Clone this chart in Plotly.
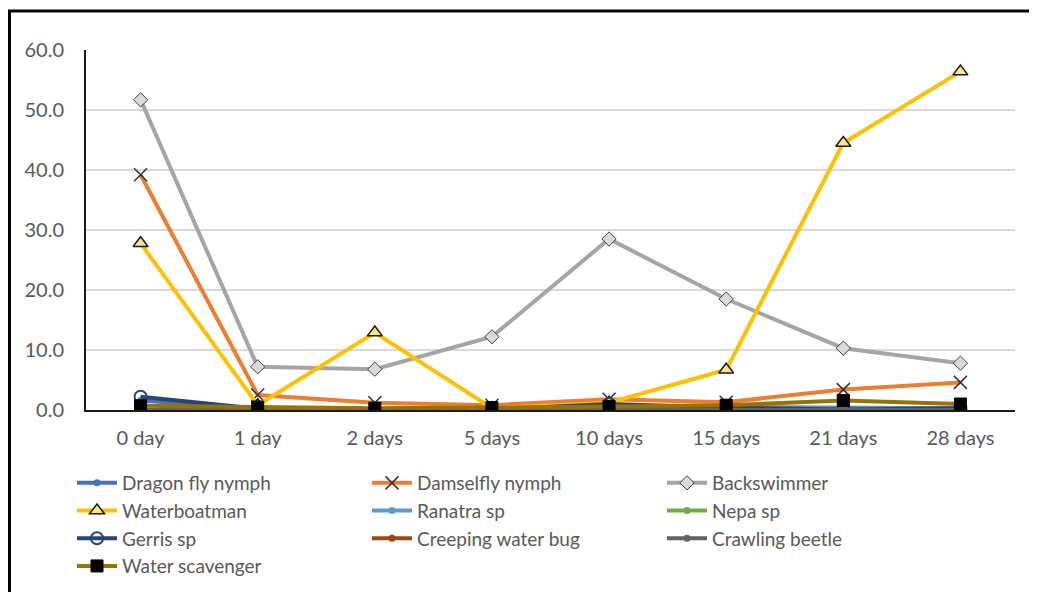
import plotly.graph_objects as go

categories = ["0 day", "1 day", "2 days", "5 days", "10 days", "15 days", "21 days", "28 days"]

dragon_fly_nymph = [1.6, 0.2, 0.1, 0.1, 0.6, 0.5, 0.4, 0.3]
damselfly_nymph = [39.2, 2.5, 1.2, 0.8, 1.8, 1.3, 3.4, 4.6]
backswimmer = [51.7, 7.2, 6.8, 12.2, 28.5, 18.5, 10.3, 7.8]
waterboatman = [27.8, 0.8, 12.9, 0.3, 1.2, 6.7, 44.5, 56.4]
ranatra_sp = [0.0, 0.0, 0.0, 0.0, 0.3, 0.3, 0.3, 0.3]
nepa_sp = [0.0, 0.0, 0.0, 0.0, 0.0, 0.0, 0.0, 0.0]
gerris_sp = [2.2, 0.2, 0.1, 0.1, 1.0, 0.4, 0.1, 0.3]
creeping_water_bug = [0.0, 0.0, 0.0, 0.0, 0.0, 0.0, 0.0, 0.0]
crawling_beetle = [0.0, 0.0, 0.0, 0.0, 0.0, 0.0, 0.0, 0.0]
water_scavenger = [0.7, 0.5, 0.3, 0.4, 0.6, 0.8, 1.6, 1.0]

y_ticks = [0, 10, 20, 30, 40, 50, 60]
y_tick_labels = ["0.0", "10.0", "20.0", "30.0", "40.0", "50.0", "60.0"]

series = [
    ("Dragon fly nymph", dragon_fly_nymph, "#4472C4", dict(symbol="circle", size=7, color="#4472C4")),
    ("Damselfly nymph", damselfly_nymph, "#ED7D31", dict(symbol="x-thin", size=13, color="#333333", line=dict(color="#333333", width=1.5))),
    ("Backswimmer", backswimmer, "#A5A5A5", dict(symbol="diamond", size=11, color="#D9D9D9", line=dict(color="#404040", width=1))),
    ("Waterboatman", waterboatman, "#FFC000", dict(symbol="triangle-up", size=13, color="#FFE57F", line=dict(color="#1a1a1a", width=1.5))),
    ("Ranatra sp", ranatra_sp, "#5B9BD5", dict(symbol="circle", size=7, color="#5B9BD5")),
    ("Nepa sp", nepa_sp, "#70AD47", dict(symbol="circle", size=7, color="#70AD47")),
    ("Gerris sp", gerris_sp, "#264478", dict(symbol="circle-open", size=12, color="#264478", line=dict(width=2))),
    ("Creeping water bug", creeping_water_bug, "#9E480E", dict(symbol="circle", size=7, color="#9E480E")),
    ("Crawling beetle", crawling_beetle, "#636363", dict(symbol="circle", size=7, color="#636363")),
    ("Water scavenger", water_scavenger, "#997300", dict(symbol="square", size=12, color="#000000", line=dict(color="#000000", width=1))),
]

fig = go.Figure()
for name, vals, col, mk in series:
    fig.add_trace(go.Scatter(
        x=categories, y=vals, name=name, mode="lines+markers",
        line=dict(color=col, width=4), marker=mk,
    ))

# the page body adds an 8px offset
OFF = 8
W, H = 1037, 592
ml, mr, mt, mb = 78, 30, 42, 190
pw, ph = W - ml - mr, H - mt - mb

def px_x(p):
    return (p - OFF - ml) / pw

def px_y(p):
    return (H - mb - (p - OFF)) / ph

fig.update_layout(
    width=W, height=H,
    margin=dict(l=ml, r=mr, t=mt, b=mb, pad=0, autoexpand=False),
    paper_bgcolor="white", plot_bgcolor="white",
    font=dict(family="Lato, Open Sans, sans-serif", color="#595959", size=20),
    xaxis=dict(
        showgrid=False, showline=True, linecolor="#1a1a1a", linewidth=2,
        ticks="", tickfont=dict(size=20, color="#595959"), zeroline=False,
        ticklabelstandoff=9, automargin=False,
    ),
    yaxis=dict(
        range=[0, 60], tickvals=y_ticks, ticktext=y_tick_labels,
        showgrid=True, gridcolor="#D9D9D9", gridwidth=1.5,
        showline=True, linecolor="#1a1a1a", linewidth=2,
        zeroline=False, ticks="", ticklabelstandoff=16,
        tickfont=dict(size=20, color="#595959"), automargin=False,
    ),
    legend=dict(
        orientation="h", xref="container", yref="container",
        x=(72 - OFF) / W, y=1 - (464 - OFF) / H, xanchor="left", yanchor="top",
        entrywidth=240, entrywidthmode="pixels",
        font=dict(size=19, color="#595959"), itemwidth=40,
        traceorder="normal", tracegroupgap=0,
    ),
    showlegend=True,
)

# black frame lines (top and left)
fig.add_shape(type="line", xref="paper", yref="paper",
              x0=px_x(8), x1=px_x(1040), y0=px_y(11), y1=px_y(11),
              line=dict(color="black", width=3))
fig.add_shape(type="line", xref="paper", yref="paper",
              x0=px_x(9.5), x1=px_x(9.5), y0=px_y(10), y1=px_y(600),
              line=dict(color="black", width=3))

fig.write_html("out.html")
